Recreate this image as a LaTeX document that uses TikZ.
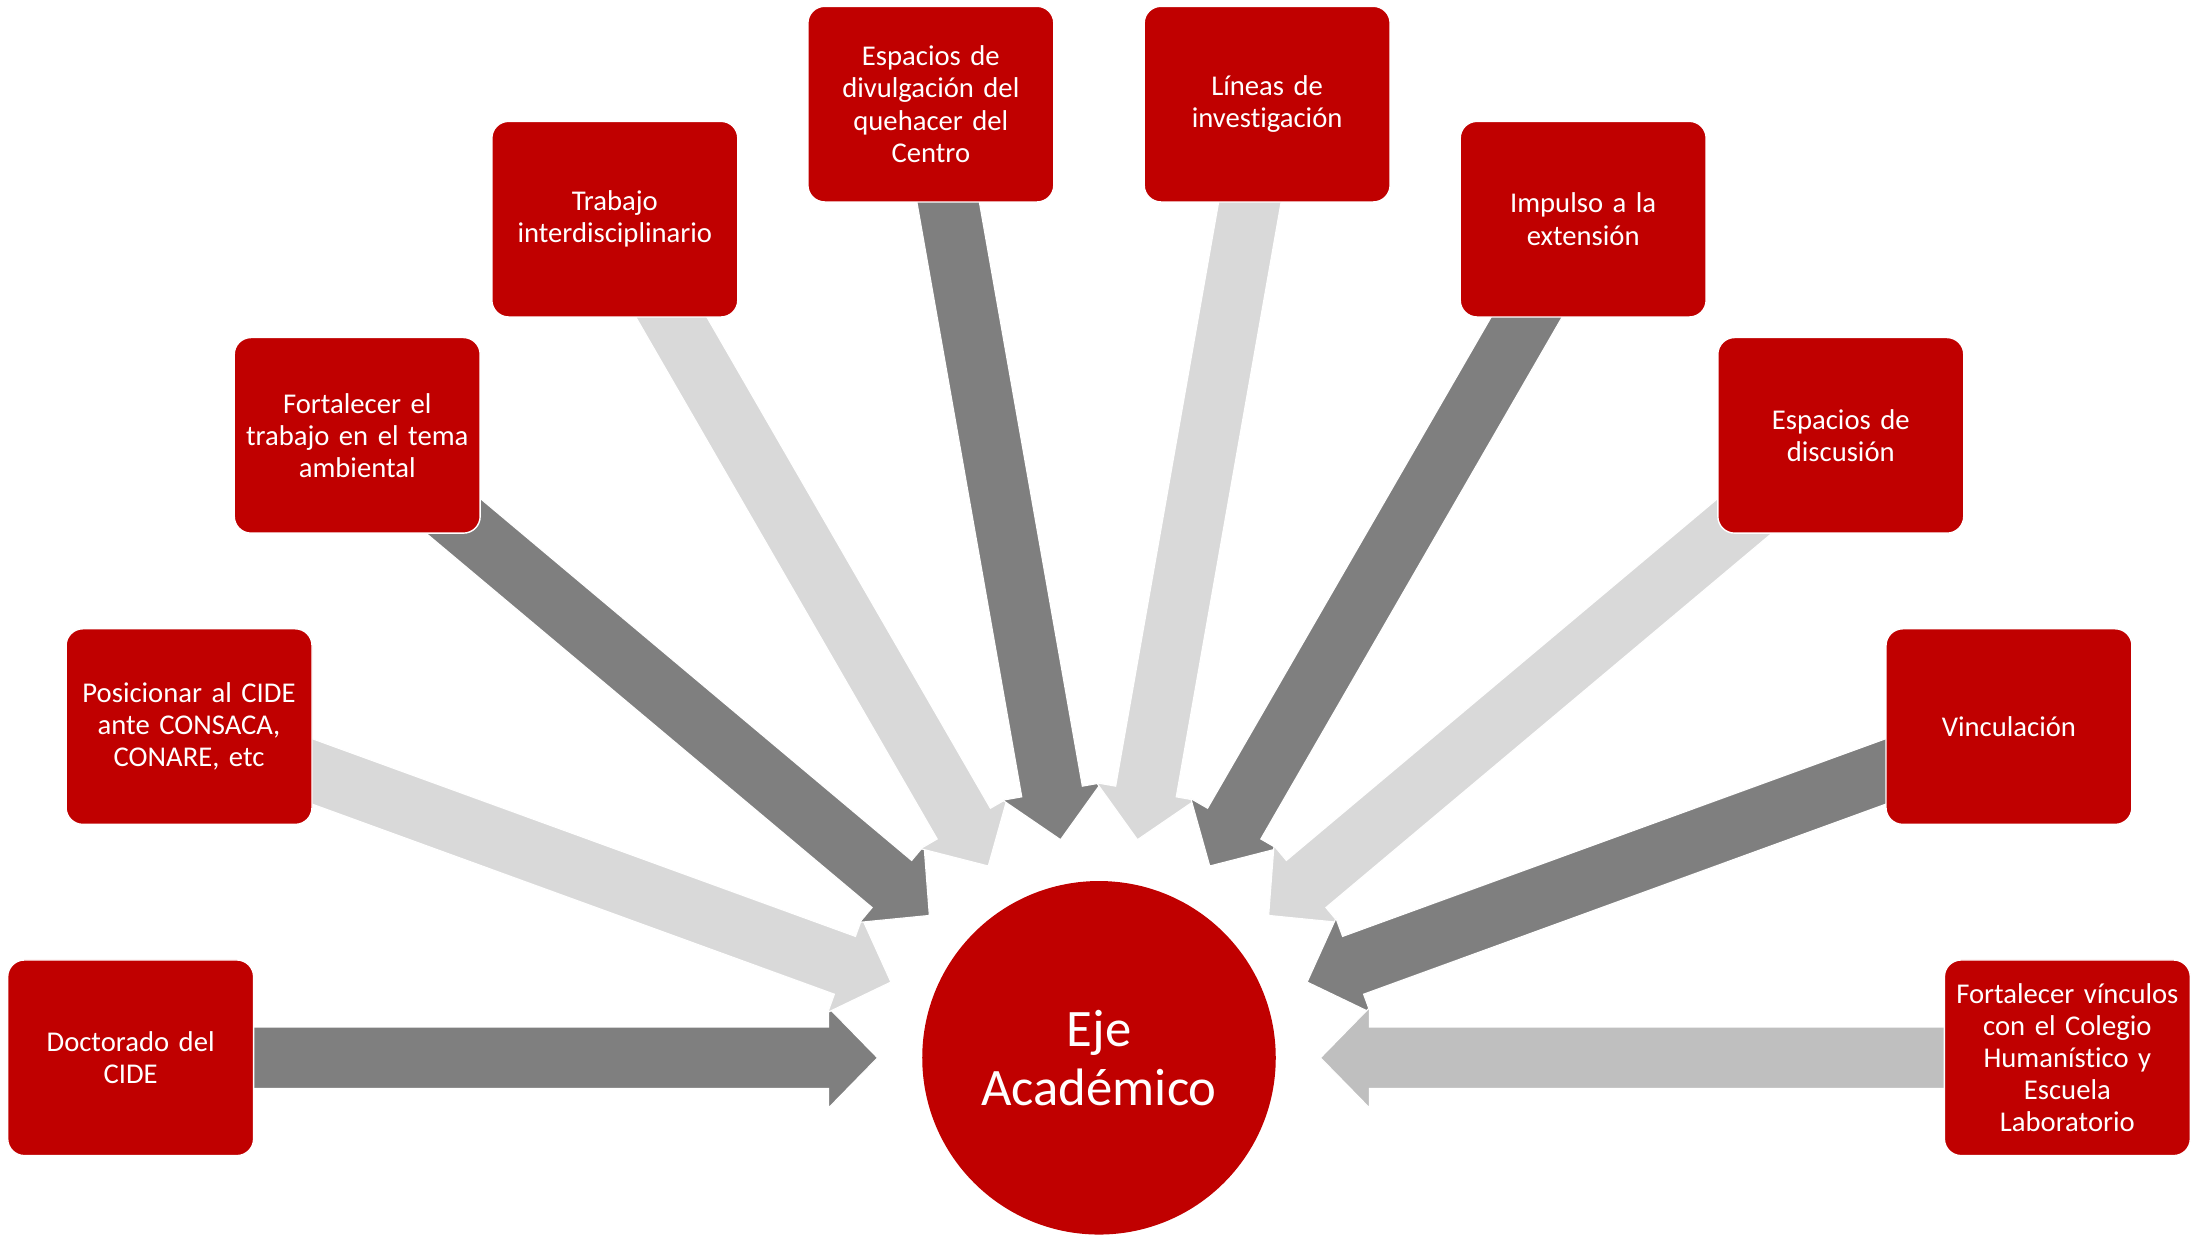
\documentclass[tikz,border=0pt]{standalone}
\usepackage{fontspec}
\setmainfont{Carlito}[Ligatures=NoCommon]
\usetikzlibrary{calc}
\definecolor{cred}{HTML}{C00000}
\definecolor{dgray}{HTML}{7F7F7F}
\definecolor{lgray}{HTML}{D9D9D9}
\definecolor{mgray}{HTML}{BFBFBF}
\tikzset{
  box/.style={rectangle, rounded corners=12pt, fill=cred, draw=white, line width=1pt,
    minimum width=176pt, minimum height=140pt, inner sep=0pt, text width=174pt,
    align=center, text=white, font=\fontsize{20.5}{23}\selectfont},
  hubstyle/.style={circle, fill=cred, minimum size=253pt, inner sep=0pt, text=white,
    align=center, font=\fontsize{37.7}{42}\selectfont},
  barrowstyle/.style={draw=white, line width=0.8pt, line join=miter}
}
\newcommand\blockarrow[2]{%
  \filldraw[barrowstyle, fill=#2] let \p1=($(#1)-(hub)$), \n1={atan2(\y1,\x1)} in
    ($(hub)+(\n1:158.5pt)$)
    -- ($(hub)+(\n1:193.5pt)+(\n1+90:35.8pt)$)
    -- ($(hub)+(\n1:193.5pt)+(\n1+90:22pt)$)
    -- ($(#1)+(\n1+90:22pt)$)
    -- ($(#1)+(\n1-90:22pt)$)
    -- ($(hub)+(\n1:193.5pt)+(\n1-90:22pt)$)
    -- ($(hub)+(\n1:193.5pt)+(\n1-90:35.8pt)$)
    -- cycle;}
\begin{document}
\begin{tikzpicture}[x=1pt,y=1pt]
\useasboundingbox (0,0) rectangle (1568,-884.5);
\coordinate (hub) at (786.5,-757);
\coordinate (p1) at ($(hub)+(180:693pt)$);
\coordinate (p2) at ($(hub)+(160:693pt)$);
\coordinate (p3) at ($(hub)+(140:693pt)$);
\coordinate (p4) at ($(hub)+(120:693pt)$);
\coordinate (p5) at ($(hub)+(100:693pt)$);
\coordinate (p6) at ($(hub)+(80:693pt)$);
\coordinate (p7) at ($(hub)+(60:693pt)$);
\coordinate (p8) at ($(hub)+(40:693pt)$);
\coordinate (p9) at ($(hub)+(20:693pt)$);
\coordinate (p10) at ($(hub)+(0:693pt)$);
% arrows
\blockarrow{p1}{dgray}
\blockarrow{p2}{lgray}
\blockarrow{p3}{dgray}
\blockarrow{p4}{lgray}
\blockarrow{p5}{dgray}
\blockarrow{p6}{lgray}
\blockarrow{p7}{dgray}
\blockarrow{p8}{lgray}
\blockarrow{p9}{dgray}
\blockarrow{p10}{mgray}
% boxes
\node[box] (b1) at (p1) {Doctorado del\\CIDE};
\node[box] (b2) at (p2) {Posicionar al CIDE\\ante CONSACA,\\CONARE, etc};
\node[box] (b3) at (p3) {Fortalecer el\\trabajo en el tema\\ambiental};
\node[box] (b4) at (p4) {Trabajo\\interdisciplinario};
\node[box] (b5) at (p5) {Espacios de\\divulgación del\\quehacer del\\Centro};
\node[box] (b6) at (p6) {Líneas de\\investigación};
\node[box] (b7) at (p7) {Impulso a la\\extensión};
\node[box] (b8) at (p8) {Espacios de\\discusión};
\node[box] (b9) at (p9) {Vinculación};
\node[box] (b10) at (p10) {Fortalecer vínculos\\con el Colegio\\Humanístico y\\Escuela\\Laboratorio};
\node[hubstyle] (eje) at (hub) {Eje\\Académico};
\end{tikzpicture}
\end{document}
